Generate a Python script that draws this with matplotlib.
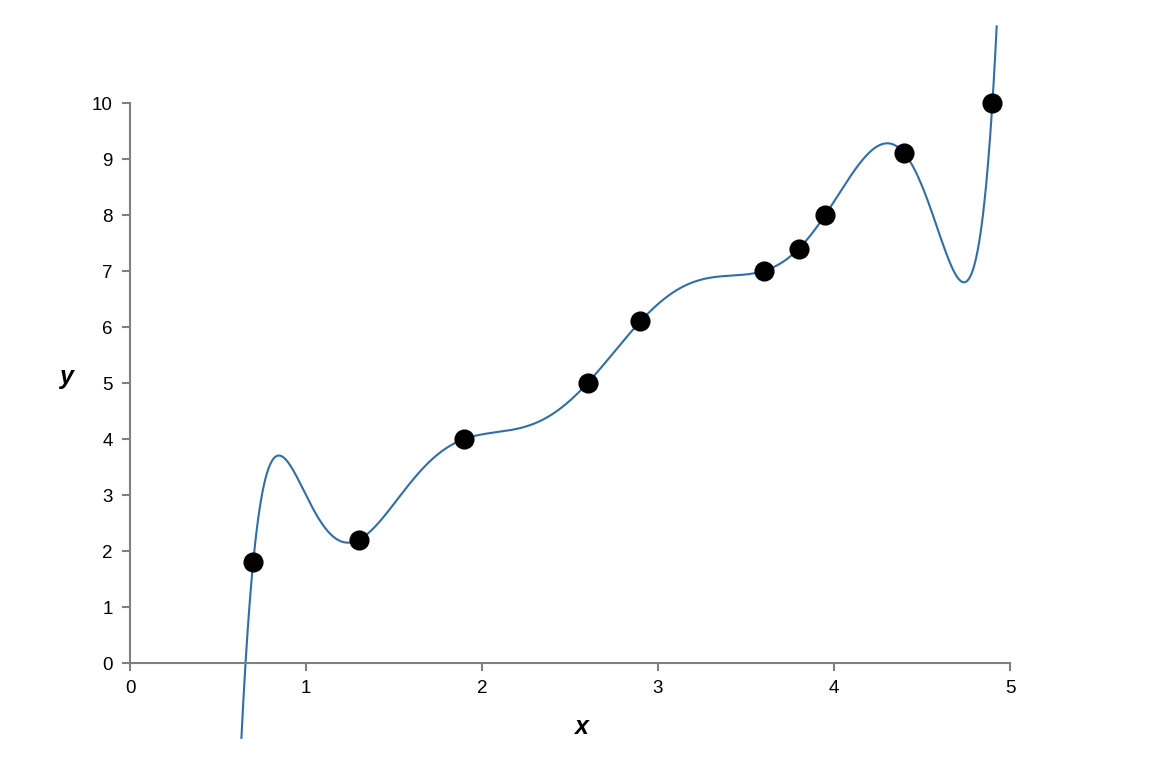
import numpy as np
import matplotlib
matplotlib.use('Agg')
import matplotlib.pyplot as plt

# data points
xs = [0.7, 1.3, 1.9, 2.6, 2.9, 3.6, 3.8, 3.95, 4.4, 4.9]
ys = [1.8, 2.2, 4.0, 5.0, 6.1, 7.0, 7.4, 8.0, 9.1, 10.0]
x_ticks = [0, 1, 2, 3, 4, 5]
y_ticks = [0, 1, 2, 3, 4, 5, 6, 7, 8, 9, 10]

plt.rcParams['font.family'] = ['Liberation Sans', 'DejaVu Sans']

W, H = 1162, 764
fig = plt.figure(figsize=(W / 100, H / 100), dpi=100)
ax = fig.add_axes([130 / W, (H - 663) / H, 880 / W, 560 / H])

# interpolating polynomial through all the points
coef = np.polyfit(xs, ys, len(xs) - 1)
xx = np.linspace(0.55, 5.0, 3000)
yy = np.polyval(coef, xx)
keep = (yy > -1.43) & (yy < 11.45)
idx = np.where(keep)[0]
xx, yy = xx[idx], yy[idx]

ax.plot(xx, yy, color='#2f6ea8', lw=1.5, clip_on=False, zorder=2)
ax.plot(xs, ys, 'o', color='black', ms=13.5, clip_on=False, zorder=3)

ax.set_xlim(0, 5)
ax.set_ylim(0, 10)
ax.set_xticks(x_ticks)
ax.set_yticks(y_ticks)

for s in ['top', 'right']:
    ax.spines[s].set_visible(False)
for s in ['left', 'bottom']:
    ax.spines[s].set_color('#808080')
    ax.spines[s].set_linewidth(1.5)
ax.tick_params(colors='#808080', labelcolor='black', length=6, width=1.5,
               labelsize=13.5, pad=6.5)

ax.set_xlabel('x', fontsize=18, fontweight='bold', fontstyle='italic', va='center')
ax.set_ylabel('y', fontsize=18, fontweight='bold', fontstyle='italic',
              rotation=0, va='center', ha='center')
ax.xaxis.set_label_coords(0.5125, -0.114)
ax.yaxis.set_label_coords(-0.0727, 0.511)

fig.savefig('out.png', dpi=100)
